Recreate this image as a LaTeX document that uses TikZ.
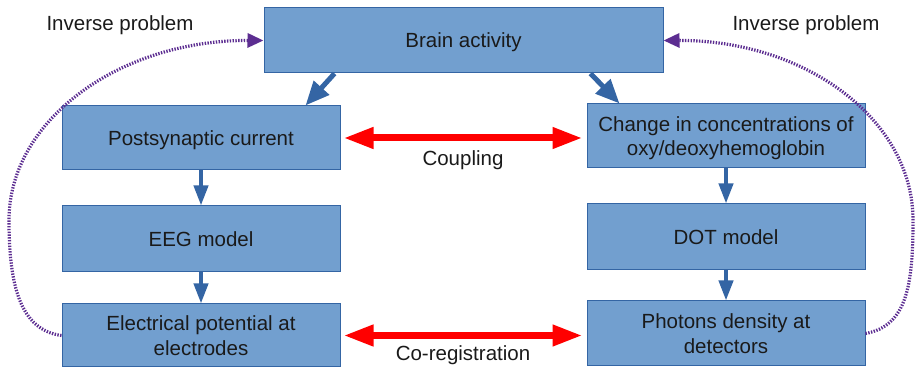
\documentclass[tikz,border=0pt]{standalone}
\usepackage{fontspec}
\setmainfont{Liberation Sans}
\usetikzlibrary{positioning}
\usetikzlibrary{arrows.meta}

\definecolor{boxfill}{RGB}{114,159,207}
\definecolor{boxline}{RGB}{52,101,164}
\definecolor{invpurple}{RGB}{92,45,145}
\definecolor{txtgray}{RGB}{26,26,26}

\begin{document}
\begin{tikzpicture}[x=0.5pt,y=-0.5pt,
  font=\fontsize{10.25}{12.3}\selectfont,text=txtgray,
  block/.style={draw=boxline,fill=boxfill,line width=0.5pt,minimum width=139pt,minimum height=32pt,align=center,inner sep=0pt,text depth=-1pt},
  flow/.style={draw=boxline,line width=2pt,-{Triangle[length=10pt,width=7pt]}},
  bigflow/.style={draw=boxline,line width=2.5pt,-{Triangle[length=12pt,width=10pt]}},
  link/.style={draw=red,line width=3.5pt,{Triangle[length=15pt,width=10pt]}-{Triangle[length=15pt,width=10pt]}},
  inverse/.style={draw=invpurple,line width=1.6pt,dash pattern=on 0.7pt off 0.7pt,-{Triangle[length=8pt,width=7pt]}}]
\useasboundingbox (0,0) rectangle (915,368);

% boxes
\node[block,minimum width=199.5pt,minimum height=32.5pt] (brain) at (463.5,40.5) {Brain activity};
\node[block] (post) at (201,138) {Postsynaptic current};
\node[block] (conc) at (726,136) {Change in concentrations of\\oxy/deoxyhemoglobin};
\node[block,minimum height=33pt] (eeg) at (201,239) {EEG model};
\node[block,minimum height=33pt] (dot) at (726,237) {DOT model};
\node[block,minimum height=31.5pt] (elec) at (201,335.5) {Electrical potential at\\electrodes};
\node[block,minimum height=32.5pt] (phot) at (726,333.5) {Photons density at\\detectors};

% labels
\node (invl) at (120,25) {Inverse problem};
\node (invr) at (806,25) {Inverse problem};
\node (coup) at (463,160) {Coupling};
\node (coreg) at (463,355) {Co-registration};

% arrows
\draw[bigflow] ([xshift=35.5pt]brain.south west) -- ([xshift=-17.5pt]post.north east);
\draw[bigflow] ([xshift=-36.5pt]brain.south east) -- ([xshift=16.5pt]conc.north west);
\draw[flow] (post) -- (eeg);
\draw[flow] (eeg) -- (elec);
\draw[flow] (conc) -- (dot);
\draw[flow] (dot) -- (phot);
\draw[link,shorten <=1.5pt,shorten >=2pt] (post.east) -- (conc.west |- post.east);
\draw[link,shorten <=1.5pt,shorten >=2pt] (elec.east) -- (phot.west |- elec.east);

% inverse problem loops
\draw[inverse] (elec.west) .. controls (20,330) and (9,285) .. (9,220)
  .. controls (9,120) and (120,40) .. (brain.west);
\draw[inverse] (phot.east) .. controls (907,326) and (913,285) .. (913,220)
  .. controls (913,120) and (806,40) .. (brain.east);
\end{tikzpicture}
\end{document}
